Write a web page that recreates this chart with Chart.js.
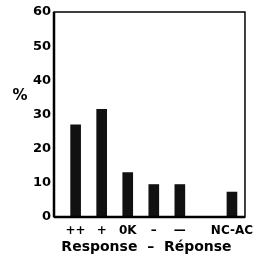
<!DOCTYPE html>
<html>
<head>
<meta charset="utf-8">
<script src="https://cdn.jsdelivr.net/npm/chart.js@4/dist/chart.umd.min.js"></script>
<style>
  html, body { margin: 0; padding: 0; background: #fff; }
  #wrap { width: 261px; height: 259px; }
</style>
</head>
<body>
<div id="wrap"><canvas id="chart" width="261" height="259"></canvas></div>
<script>
// data
const categories = ['++', '+', '0K', '–', '—', 'NC-AC'];
const positions  = [0, 1, 2, 3, 4, 6];
const values     = [27, 31.5, 13, 9.5, 9.5, 7.3];
const yTicks     = [0, 10, 20, 30, 40, 50, 60];
const yTitle     = '%';
const xTitle     = 'Response  –  Réponse';

const FONT = '"DejaVu Sans", sans-serif';

// box round the plot, plus the two axis titles
const frame = {
    id: 'frame',
    afterDraw(chart) {
        const { ctx, chartArea: a, scales } = chart;
        ctx.save();
        ctx.strokeStyle = '#000';
        ctx.lineWidth = 1.5;
        ctx.strokeRect(a.left, a.top, a.right - a.left, a.bottom - a.top);
        ctx.lineWidth = 2.5;
        ctx.beginPath();
        ctx.moveTo(a.left, a.bottom);
        ctx.lineTo(a.right, a.bottom);
        ctx.moveTo(a.left, a.top);
        ctx.lineTo(a.left, a.bottom);
        ctx.stroke();

        ctx.fillStyle = '#000';
        ctx.textAlign = 'center';
        ctx.textBaseline = 'middle';
        ctx.font = `bold 15px ${FONT}`;
        ctx.fillText(yTitle, 20, scales.y.getPixelForValue(35.5));
        ctx.font = `bold 14px ${FONT}`;
        ctx.fillText(xTitle, (a.left + a.right) / 2 - 3, 247);
        ctx.restore();
    }
};

new Chart(document.getElementById('chart'), {
    type: 'bar',
    data: {
        datasets: [{
            data: positions.map((p, i) => ({ x: p, y: values[i] })),
            backgroundColor: '#111',
            borderWidth: 0,
            barThickness: 10
        }]
    },
    options: {
        responsive: false,
        animation: false,
        events: [],
        layout: { padding: { top: 12, right: 14, left: 0, bottom: 0 } },
        plugins: { legend: { display: false }, tooltip: { enabled: false } },
        scales: {
            x: {
                type: 'linear',
                offset: false,
                min: -0.83,
                max: 6.5,
                grid: { display: false, drawTicks: false },
                border: { display: false },
                afterBuildTicks: (s) => { s.ticks = positions.map(v => ({ value: v })); },
                afterFit: (s) => { s.height = 42; },
                ticks: {
                    autoSkip: false,
                    maxRotation: 0,
                    padding: 7,
                    color: '#000',
                    font: { family: FONT, size: 12, weight: 'bold' },
                    callback: (v) => categories[positions.indexOf(v)]
                }
            },
            y: {
                min: 0,
                max: 60,
                grid: { display: false, drawTicks: false },
                border: { display: false },
                afterBuildTicks: (s) => { s.ticks = yTicks.map(v => ({ value: v })); },
                afterFit: (s) => { s.width = 54; },
                ticks: {
                    padding: 3,
                    color: '#000',
                    font: { family: FONT, size: 13, weight: 'bold' }
                }
            }
        }
    },
    plugins: [frame]
});
</script>
</body>
</html>
